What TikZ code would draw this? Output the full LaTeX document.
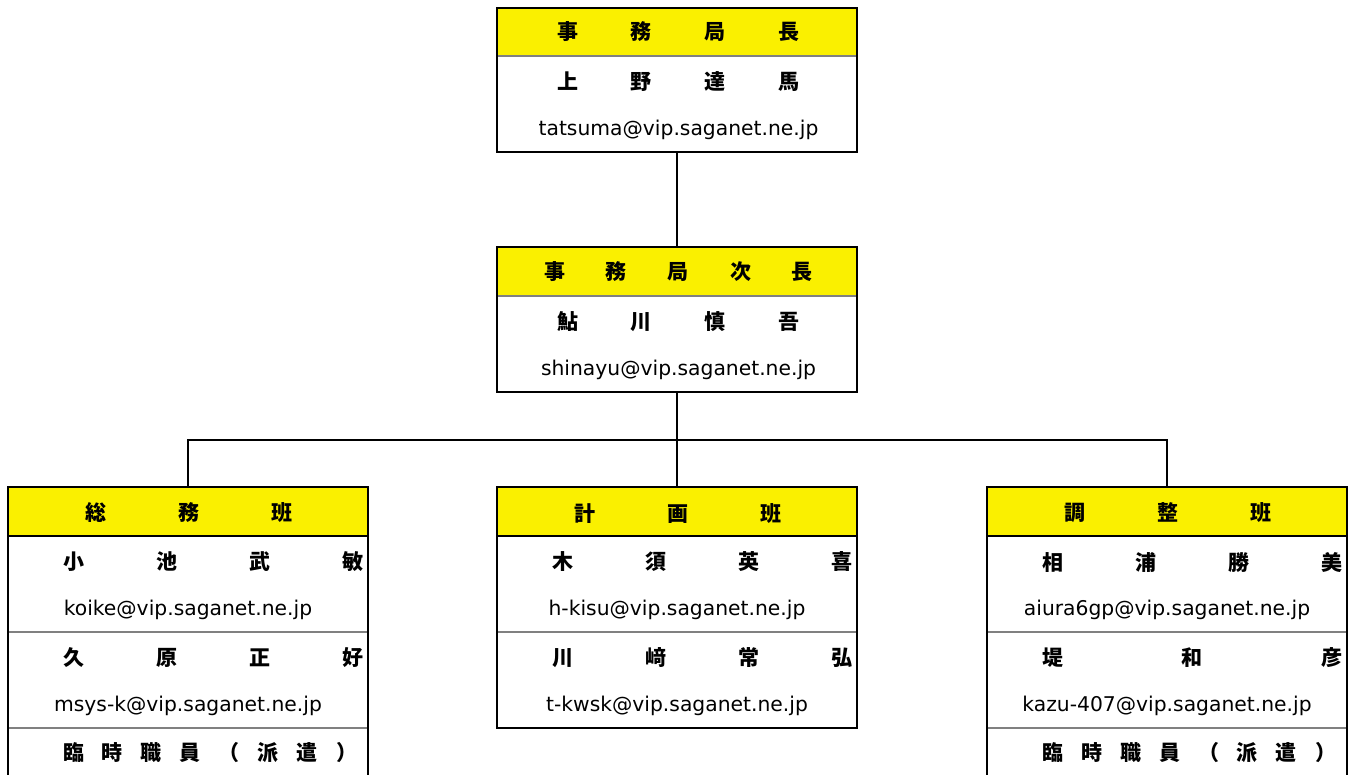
\documentclass[tikz,border=0pt]{standalone}
\usepackage{fontspec}
\setmainfont{DejaVu Sans}
\newfontfamily\cjk{Noto Sans CJK JP}
\definecolor{hdr}{RGB}{250,240,0}
\definecolor{sepg}{RGB}{128,128,128}
\begin{document}
\begin{tikzpicture}[x=1pt,y=-1pt,
  frame/.style={draw=black, line width=2.7pt, anchor=north west, inner sep=0pt, outer sep=0pt, minimum width=360pt},
  head/.style={fill=hdr, anchor=north west, inner sep=0pt, outer sep=0pt, minimum width=360pt, minimum height=49pt},
  cjkt/.style={inner sep=0pt, font=\cjk\bfseries\fontsize{21}{25}\selectfont},
  mail/.style={inner sep=0pt, font=\fontsize{20.3}{24}\selectfont},
  graysep/.style={draw=sepg, line width=1.4pt},
  blacksep/.style={draw=black, line width=2.4pt},
  link/.style={draw=black, line width=2.7pt}]
\useasboundingbox (0,0) rectangle (1354,774);
\clip (0,0) rectangle (1354,774);

% header fills
\node[head] (topH) at (497,8) {};
\node[head] (midH) at (497,247) {};
\node[head] (LH) at (8,487) {};
\node[head] (CH) at (497,487) {};
\node[head] (RH) at (987,487) {};

% separators
\draw[graysep] (497,56) -- (857,56);
\draw[graysep] (497,296) -- (857,296);
\draw[blacksep] (8,536) -- (367,536);
\draw[blacksep] (497,536) -- (857,536);
\draw[blacksep] (987,536) -- (1347,536);
\draw[graysep] (8,632) -- (367,632);
\draw[graysep] (8,728) -- (367,728);
\draw[graysep] (497,632) -- (857,632);
\draw[graysep] (987,632) -- (1347,632);
\draw[graysep] (987,728) -- (1347,728);

% frames
\node[frame, minimum height=144pt] (top) at (497,8) {};
\node[frame, minimum height=145pt] (mid) at (497,247) {};
\node[frame, minimum height=310pt] (L) at (8,487) {};
\node[frame, minimum height=241pt] (C) at (497,487) {};
\node[frame, minimum height=310pt] (R) at (987,487) {};

% connectors
\coordinate (j) at (677,440);
\draw[link] (top.south) -- (mid.north);
\draw[link] (mid.south) -- (j);
\draw[link] (L.north) |- (j) -| (R.north);
\draw[link] (j) -- (C.north);

% top box texts
\node[cjkt] (t1) at (678.5,32) {\makebox[243pt][s]{事\hfill 務\hfill 局\hfill 長}};
\node[cjkt] (t2) at (678.5,82) {\makebox[243pt][s]{上\hfill 野\hfill 達\hfill 馬}};
\node[mail] (t3) at (678.5,130) {tatsuma@vip.saganet.ne.jp};

% middle box texts
\node[cjkt] (m1) at (678.5,272) {\makebox[269pt][s]{事\hfill 務\hfill 局\hfill 次\hfill 長}};
\node[cjkt] (m2) at (678.5,322) {\makebox[243pt][s]{鮎\hfill 川\hfill 慎\hfill 吾}};
\node[mail] (m3) at (678.5,370) {shinayu@vip.saganet.ne.jp};

% left box texts
\node[cjkt] (l1) at (188.5,513) {\makebox[207pt][s]{総\hfill 務\hfill 班}};
\node[cjkt] (l2) at (213,562) {\makebox[300pt][s]{小\hfill 池\hfill 武\hfill 敏}};
\node[mail] (l3) at (188,610) {koike@vip.saganet.ne.jp};
\node[cjkt] (l4) at (213,658) {\makebox[300pt][s]{久\hfill 原\hfill 正\hfill 好}};
\node[mail] (l5) at (188,706) {msys-k@vip.saganet.ne.jp};
\node[cjkt] (l6) at (210,753) {\makebox[294pt][s]{臨\hfill 時\hfill 職\hfill 員\hfill （\hfill 派\hfill 遣\hfill ）}};

% centre box texts
\node[cjkt] (c1) at (677.5,513) {\makebox[207pt][s]{計\hfill 画\hfill 班}};
\node[cjkt] (c2) at (702,562) {\makebox[300pt][s]{木\hfill 須\hfill 英\hfill 喜}};
\node[mail] (c3) at (677,610) {h-kisu@vip.saganet.ne.jp};
\node[cjkt] (c4) at (702,658) {\makebox[300pt][s]{川\hfill 﨑\hfill 常\hfill 弘}};
\node[mail] (c5) at (677,706) {t-kwsk@vip.saganet.ne.jp};

% right box texts
\node[cjkt] (r1) at (1167.5,513) {\makebox[207pt][s]{調\hfill 整\hfill 班}};
\node[cjkt] (r2) at (1192,562) {\makebox[300pt][s]{相\hfill 浦\hfill 勝\hfill 美}};
\node[mail] (r3) at (1167,610) {aiura6gp@vip.saganet.ne.jp};
\node[cjkt] (r4) at (1192,658) {\makebox[300pt][s]{堤\hfill 和\hfill 彦}};
\node[mail] (r5) at (1167,706) {kazu-407@vip.saganet.ne.jp};
\node[cjkt] (r6) at (1189,753) {\makebox[294pt][s]{臨\hfill 時\hfill 職\hfill 員\hfill （\hfill 派\hfill 遣\hfill ）}};
\end{tikzpicture}
\end{document}
